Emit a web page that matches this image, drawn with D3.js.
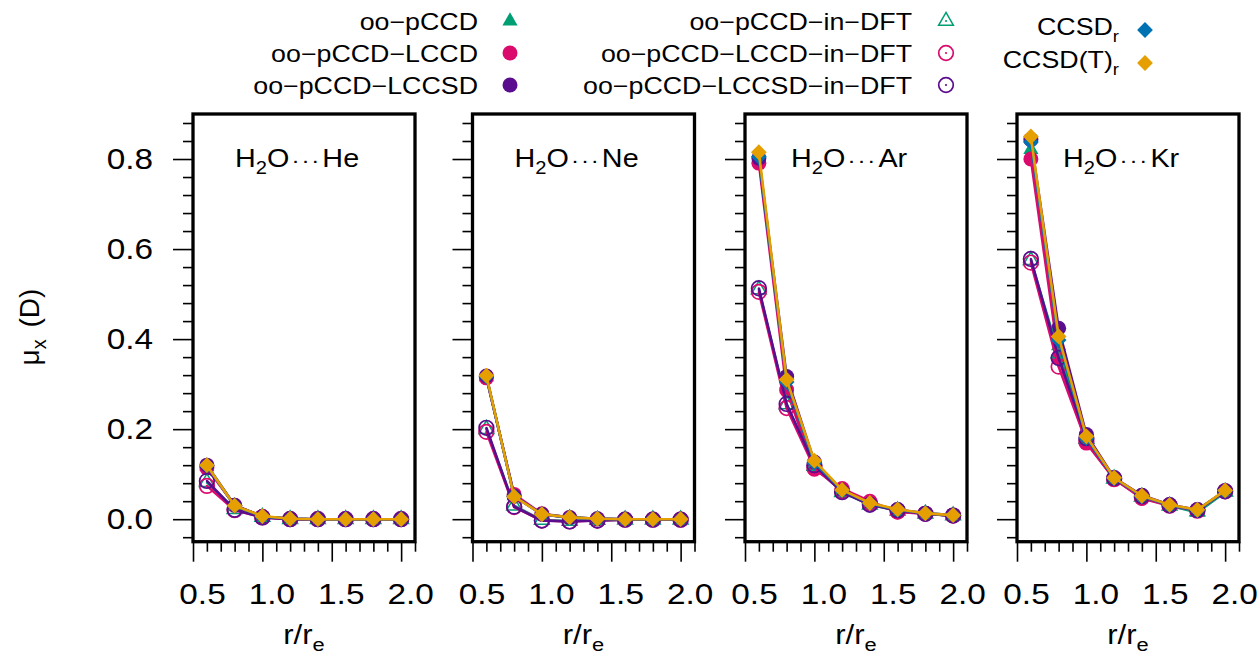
<!DOCTYPE html>
<html>
<head>
<meta charset="utf-8">
<script src="https://cdn.jsdelivr.net/npm/d3@7"></script>
<style>
  body { margin: 0; background: #fff; }
  svg { display: block; font-family: "Liberation Sans", Arial, Helvetica, sans-serif; }
  .axis path.domain { display: none; }
  .axis line { stroke: #000; stroke-width: 1.6px; }
  .axis text { fill: #000; font-size: 29px; }
</style>
</head>
<body>
<svg id="chart" width="1259" height="658"></svg>
<script>
// r/r_e grid shared by every panel
const rValues = [0.6, 0.8, 1.0, 1.2, 1.4, 1.6, 1.8, 2.0];
const systems = ['He', 'Ne', 'Ar', 'Kr'];
const methods = ['oo−pCCD', 'oo−pCCD−LCCD', 'oo−pCCD−LCCSD',
  'oo−pCCD−in−DFT', 'oo−pCCD−LCCD−in−DFT', 'oo−pCCD−LCCSD−in−DFT',
  'CCSD', 'CCSD(T)'];

// mu_x (D), one row per method (same order as methods)
const muHe = [
  [0.118, 0.030, 0.006, 0.001, 0.000, 0.000, 0.000, 0.000],
  [0.114, 0.031, 0.006, 0.001, 0.000, 0.000, 0.000, 0.000],
  [0.120, 0.031, 0.006, 0.001, 0.000, 0.000, 0.000, 0.000],
  [0.082, 0.022, 0.005, 0.000, 0.000, 0.000, 0.000, 0.000],
  [0.074, 0.020, 0.004, 0.000, 0.000, 0.000, 0.000, 0.000],
  [0.085, 0.021, 0.004, 0.000, 0.000, 0.000, 0.000, 0.000],
  [0.119, 0.030, 0.006, 0.001, 0.000, 0.000, 0.000, 0.000],
  [0.120, 0.030, 0.007, 0.001, 0.000, 0.000, 0.000, 0.000]
];
const muNe = [
  [0.316, 0.052, 0.011, 0.004, 0.001, 0.000, 0.000, 0.000],
  [0.314, 0.055, 0.012, 0.004, 0.001, 0.000, 0.000, 0.000],
  [0.318, 0.051, 0.011, 0.003, 0.001, 0.000, 0.000, 0.000],
  [0.200, 0.030, -0.002, -0.004, -0.002, -0.001, -0.001, -0.001],
  [0.194, 0.027, -0.003, -0.005, -0.003, -0.001, -0.001, -0.001],
  [0.203, 0.028, -0.003, -0.005, -0.003, -0.001, -0.001, -0.001],
  [0.317, 0.051, 0.011, 0.004, 0.001, 0.000, 0.000, 0.000],
  [0.319, 0.050, 0.011, 0.004, 0.001, 0.000, 0.000, 0.000]
];
const muAr = [
  [0.800, 0.300, 0.122, 0.062, 0.034, 0.020, 0.012, 0.008],
  [0.791, 0.287, 0.111, 0.068, 0.040, 0.016, 0.012, 0.008],
  [0.802, 0.317, 0.127, 0.063, 0.034, 0.021, 0.013, 0.009],
  [0.510, 0.255, 0.118, 0.060, 0.032, 0.019, 0.012, 0.008],
  [0.505, 0.247, 0.114, 0.062, 0.036, 0.017, 0.012, 0.008],
  [0.513, 0.256, 0.120, 0.060, 0.032, 0.020, 0.012, 0.008],
  [0.805, 0.305, 0.125, 0.064, 0.035, 0.021, 0.013, 0.009],
  [0.815, 0.310, 0.130, 0.065, 0.036, 0.022, 0.013, 0.009]
];
const muKr = [
  [0.821, 0.385, 0.178, 0.090, 0.050, 0.030, 0.015, 0.060],
  [0.800, 0.360, 0.169, 0.090, 0.046, 0.030, 0.020, 0.062],
  [0.843, 0.424, 0.188, 0.092, 0.053, 0.032, 0.021, 0.063],
  [0.575, 0.368, 0.178, 0.090, 0.050, 0.030, 0.017, 0.061],
  [0.570, 0.339, 0.172, 0.089, 0.048, 0.030, 0.019, 0.062],
  [0.578, 0.358, 0.180, 0.091, 0.051, 0.031, 0.020, 0.062],
  [0.838, 0.398, 0.180, 0.091, 0.051, 0.031, 0.020, 0.063],
  [0.850, 0.406, 0.184, 0.092, 0.052, 0.032, 0.021, 0.064]
];
const panelValues = [muHe, muNe, muAr, muKr];

const xTickValues = [0.5, 1.0, 1.5, 2.0];
const yTickValues = [0.0, 0.2, 0.4, 0.6, 0.8];

// styling per method
const methodColors = ['#009E73', '#DB0B6E', '#5A0D8E', '#009E73', '#DB0B6E', '#5A0D8E', '#0072B2', '#E69F00'];
const methodShapes = ['triangle', 'circle', 'circle', 'openTriangle', 'openCircle', 'openCircle', 'diamond', 'diamond'];
const methodSubs = ['', '', '', '', '', '', 'r', 'r'];

// the reference glyphs are a bit wider than Liberation Sans
const STRETCH = 1.15;

const svg = d3.select('#chart');

function stretchedText(parent, x, y, anchor, size) {
  return parent.append('text')
    .attr('transform', `translate(${x},${y}) scale(${STRETCH},1)`)
    .attr('text-anchor', anchor)
    .style('font-size', size + 'px');
}

// Draws one marker of the given shape into a (translated) group selection
function drawMarker(sel, shape, color) {
  if (shape === 'triangle') {
    sel.append('path').attr('d', d3.symbol(d3.symbolTriangle, 100)()).attr('fill', color);
  } else if (shape === 'circle') {
    sel.append('circle').attr('r', 7.5).attr('fill', color);
  } else if (shape === 'openTriangle') {
    sel.append('path').attr('d', d3.symbol(d3.symbolTriangle, 95)())
      .attr('fill', 'none').attr('stroke', color).attr('stroke-width', 1.5);
    sel.append('circle').attr('r', 1.1).attr('fill', color);
  } else if (shape === 'openCircle') {
    sel.append('circle').attr('r', 7.3)
      .attr('fill', 'none').attr('stroke', color).attr('stroke-width', 1.7);
    sel.append('circle').attr('r', 1.1).attr('fill', color);
  } else {
    sel.append('path').attr('d', d3.symbol(d3.symbolSquare, 125)())
      .attr('transform', 'rotate(45)').attr('fill', color);
  }
}

class DipolePanel {

  constructor(_config, _data) {
    this.config = {
      left: _config.left,
      top: _config.top || 114,
      width: _config.width || 222,
      height: _config.height || 427.7,
      system: _config.system,
      showYLabels: _config.showYLabels || false
    };
    this.data = _data;
    this.initVis();
  }

  initVis() {
    let vis = this;

    vis.chart = svg.append('g')
      .attr('transform', `translate(${vis.config.left},${vis.config.top})`);

    vis.xScale = d3.scaleLinear().domain([0.5, 2.1]).range([0, vis.config.width]);
    vis.yScale = d3.scaleLinear().domain([-0.05, 0.9]).range([vis.config.height, 0]);

    // x axis: major + minor ticks below the frame
    const xMinor = d3.range(6, 22).map(i => i / 10).filter(v => Math.round(v * 10) % 5 !== 0);
    const xAxisMinor = d3.axisBottom(vis.xScale).tickValues(xMinor).tickSize(10).tickFormat('');
    const xAxisMajor = d3.axisBottom(vis.xScale).tickValues(xTickValues).tickSize(20)
      .tickPadding(22).tickFormat(d3.format('.1f'));

    vis.chart.append('g').attr('class', 'axis')
      .attr('transform', `translate(0,${vis.config.height})`)
      .call(xAxisMinor)
      .attr('font-size', null).attr('font-family', null);
    vis.chart.append('g').attr('class', 'axis')
      .attr('transform', `translate(0,${vis.config.height})`)
      .call(xAxisMajor)
      .attr('font-size', null).attr('font-family', null)
      .selectAll('text')
      .attr('transform', `translate(9,0) scale(${STRETCH},1)`);

    // y axis: major + minor ticks left of the frame
    const yMinor = d3.range(-1, 23).filter(i => i % 5 !== 0).map(i => i * 0.04);
    const yAxisMinor = d3.axisLeft(vis.yScale).tickValues(yMinor).tickSize(10).tickFormat('');
    const yAxisMajor = d3.axisLeft(vis.yScale).tickValues(yTickValues).tickSize(20)
      .tickPadding(20).tickFormat(vis.config.showYLabels ? d3.format('.1f') : '');

    vis.chart.append('g').attr('class', 'axis')
      .call(yAxisMinor)
      .attr('font-size', null).attr('font-family', null);
    vis.chart.append('g').attr('class', 'axis')
      .call(yAxisMajor)
      .attr('font-size', null).attr('font-family', null)
      .selectAll('text')
      .attr('transform', `translate(-40,0) scale(${STRETCH},1) translate(40,0)`);

    // x axis title r/r_e
    const xt = stretchedText(vis.chart, vis.config.width / 2, vis.config.height + 102, 'middle', 27);
    xt.append('tspan').text('r/r');
    xt.append('tspan').attr('dy', 7).style('font-size', '19px').text('e');

    // panel title H2O···X
    const title = stretchedText(vis.chart, vis.xScale(1.25), 53, 'middle', 25);
    title.append('tspan').text('H');
    title.append('tspan').attr('dy', 7).style('font-size', '17.5px').text('2');
    title.append('tspan').attr('dy', -7).text('O');
    title.append('tspan').attr('dx', 2).style('letter-spacing', '1.6px').style('font-size', '21px').text('\u00B7\u00B7\u00B7');
    title.append('tspan').attr('dx', 1).text(vis.config.system);

    vis.marks = vis.chart.append('g');

    vis.frame = vis.chart.append('rect')
      .attr('width', vis.config.width)
      .attr('height', vis.config.height)
      .attr('fill', 'none')
      .attr('stroke', '#000')
      .attr('stroke-width', 3.3);
  }

  updateVis() {
    let vis = this;

    const line = d3.line()
      .x(d => vis.xScale(d.r))
      .y(d => vis.yScale(d.mu));

    vis.data.forEach((row, m) => {
      const pts = row.map((mu, i) => ({ r: rValues[i], mu: mu }));

      vis.marks.append('path')
        .datum(pts)
        .attr('d', line)
        .attr('fill', 'none')
        .attr('stroke', methodColors[m])
        .attr('stroke-width', 2.6)
        .attr('stroke-linejoin', 'round');

      vis.marks.append('g').selectAll('g')
        .data(pts)
        .join('g')
        .attr('transform', d => `translate(${vis.xScale(d.r)},${vis.yScale(d.mu)})`)
        .each(function () { drawMarker(d3.select(this), methodShapes[m], methodColors[m]); });
    });
  }
}

const panelLefts = [193, 472.5, 745, 1017];
systems.forEach((s, i) => {
  const p = new DipolePanel({ left: panelLefts[i], system: s, showYLabels: i === 0 }, panelValues[i]);
  p.updateVis();
});

// y axis title mu_x (D)
const yt = svg.append('text')
  .attr('transform', 'translate(39,327) rotate(-90)')
  .attr('text-anchor', 'middle')
  .style('font-size', '28px');
yt.append('tspan').text('\u03BC');
yt.append('tspan').attr('dy', 7).style('font-size', '20px').text('x');
yt.append('tspan').attr('dy', -7).attr('dx', 4).text(' (D)');

// legend: three columns
const legendCols = [
  { items: [0, 1, 2], textX: 478, markX: 510, baselines: [30, 62, 94] },
  { items: [3, 4, 5], textX: 912, markX: 946, baselines: [30, 62, 94] },
  { items: [6, 7], textX: 1119, markX: 1145, baselines: [35, 68] }
];
const legend = svg.append('g');
legendCols.forEach(col => {
  col.items.forEach((m, k) => {
    const y = col.baselines[k];
    const t = stretchedText(legend, col.textX, y, 'end', 23.3);
    t.append('tspan').text(methods[m]);
    if (methodSubs[m]) {
      t.append('tspan').attr('dy', 7).style('font-size', '16px').text(methodSubs[m]);
    }
    const markY = methodSubs[m] ? y - 5 : y - 9;
    const g = legend.append('g').attr('transform', `translate(${col.markX},${markY})`);
    drawMarker(g, methodShapes[m], methodColors[m]);
  });
});
</script>
</body>
</html>
